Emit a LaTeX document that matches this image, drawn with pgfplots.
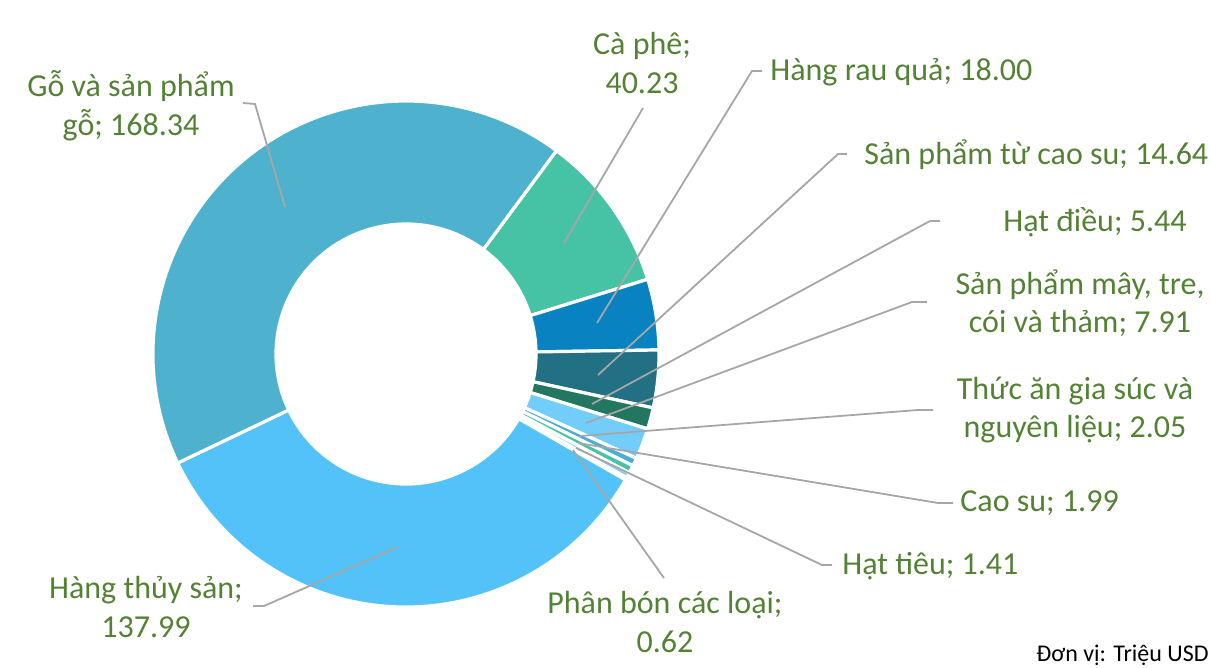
\documentclass[border=0pt]{standalone}
\usepackage{fontspec}
\setmainfont{Carlito}
\usepackage{pgfplots}
\usepackage{pgfplotstable}
\pgfplotsset{compat=1.18}
\usetikzlibrary{calc}

\definecolor{cGo}{RGB}{78,178,206}
\definecolor{cCaphe}{RGB}{70,195,165}
\definecolor{cRauqua}{RGB}{8,130,192}
\definecolor{cSPcaosu}{RGB}{34,112,132}
\definecolor{cHatdieu}{RGB}{35,118,95}
\definecolor{cMaytre}{RGB}{115,205,250}
\definecolor{cThucan}{RGB}{75,175,210}
\definecolor{cCaosu}{RGB}{70,195,165}
\definecolor{cHattieu}{RGB}{140,205,235}
\definecolor{cPhanbon}{RGB}{160,215,240}
\definecolor{cThuysan}{RGB}{83,194,248}
\definecolor{lblgreen}{RGB}{84,130,53}
\definecolor{leadgray}{RGB}{166,166,166}

\tikzset{
  lbl/.style={text=lblgreen, font=\fontsize{16}{19.3}\selectfont, inner sep=0pt, align=center},
  leader/.style={draw=leadgray, line width=0.9pt},
}

% clockwise from Ca phe
\pgfplotstableread[col sep=comma]{
name,value,color
Ca phe,40.23,cCaphe
Hang rau qua,18.00,cRauqua
San pham tu cao su,14.64,cSPcaosu
Hat dieu,5.44,cHatdieu
San pham may tre,7.91,cMaytre
Thuc an gia suc,2.05,cThucan
Cao su,1.99,cCaosu
Hat tieu,1.41,cHattieu
Phan bon,0.62,cPhanbon
Hang thuy san,137.99,cThuysan
Go va san pham go,168.34,cGo
}\datatable

\def\total{398.62}
\def\startang{53.5}
\def\rout{126.5}
\def\rin{65}

\begin{document}
\begin{tikzpicture}
\begin{axis}[
    width=605.5pt, height=334pt, scale only axis,
    xmin=0, xmax=1211, ymin=0, ymax=668,
    y dir=reverse,
    hide axis, clip=false,
]
\path (axis cs:0,0) rectangle (axis cs:1211,668);
\def\acc{0}
\pgfplotsforeachungrouped \i in {0,...,10}{
  \pgfplotstablegetelem{\i}{value}\of\datatable
  \let\v\pgfplotsretval
  \pgfplotstablegetelem{\i}{color}\of\datatable
  \let\c\pgfplotsretval
  \pgfmathsetmacro\aS{\startang-\acc/\total*360}
  \pgfmathsetmacro\acc{\acc+\v}
  \pgfmathsetmacro\aE{\startang-\acc/\total*360}
  \edef\temp{\noexpand\fill[\c, draw=white, line width=1.6pt]
    ($(axis cs:406,354)+(\aS:\rout pt)$) arc[start angle=\aS, end angle=\aE, radius=\rout pt]
    -- ($(axis cs:406,354)+(\aE:\rin pt)$) arc[start angle=\aE, end angle=\aS, radius=\rin pt] -- cycle;}
  \temp
}

% leader lines
\draw[leader] (axis cs:243,103) -- (axis cs:255,104) -- (axis cs:285,207);
\draw[leader] (axis cs:643,108) -- (axis cs:564,243);
\draw[leader] (axis cs:762,71) -- (axis cs:752,71) -- (axis cs:597,323);
\draw[leader] (axis cs:847,154) -- (axis cs:838,154) -- (axis cs:598,375);
\draw[leader] (axis cs:940,221) -- (axis cs:930,221) -- (axis cs:592,404);
\draw[leader] (axis cs:927,302) -- (axis cs:912,302) -- (axis cs:586,423);
\draw[leader] (axis cs:933,410) -- (axis cs:918,410) -- (axis cs:580,436);
\draw[leader] (axis cs:953,503) -- (axis cs:938,503) -- (axis cs:578,443);
\draw[leader] (axis cs:832,565) -- (axis cs:822,565) -- (axis cs:576,448);
\draw[leader] (axis cs:664,578) -- (axis cs:573,450);
\draw[leader] (axis cs:253,606) -- (axis cs:264,606) -- (axis cs:398,547);

% labels
\node[lbl] at (axis cs:131,106) {Gỗ và sản phẩm\\gỗ; 168.34};
\node[lbl] at (axis cs:642,63) {Cà phê;\\40.23};
\node[lbl, anchor=west] at (axis cs:770,72) {Hàng rau quả; 18.00};
\node[lbl, anchor=west] at (axis cs:864,155) {Sản phẩm từ cao su; 14.64};
\node[lbl, anchor=west] at (axis cs:1003,222) {Hạt điều; 5.44};
\node[lbl] at (axis cs:1080,303) {Sản phẩm mây, tre,\\cói và thảm; 7.91};
\node[lbl] at (axis cs:1075,410) {Thức ăn gia súc và\\nguyên liệu; 2.05};
\node[lbl, anchor=west] at (axis cs:960,503) {Cao su; 1.99};
\node[lbl, anchor=west] at (axis cs:842,566) {Hạt tiêu; 1.41};
\node[lbl] at (axis cs:665,622) {Phân bón các loại;\\0.62};
\node[lbl] at (axis cs:146,607) {Hàng thủy sản;\\137.99};
\node[anchor=east, inner sep=0pt, font=\fontsize{12}{14}\selectfont] at (axis cs:1209,655) {Đơn vị: Triệu USD};
\end{axis}
\end{tikzpicture}
\end{document}
